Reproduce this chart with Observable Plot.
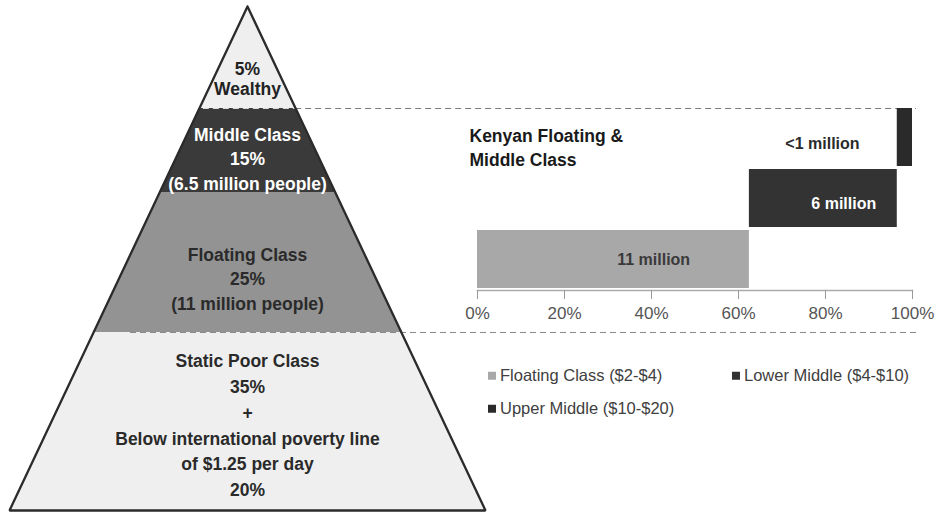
<!DOCTYPE html>
<html><head><meta charset="utf-8">
<script src="https://cdn.jsdelivr.net/npm/d3@7"></script>
<script src="https://cdn.jsdelivr.net/npm/@observablehq/plot@0.6"></script>
<style>
body{margin:0;background:#fff;}
#wrap{position:relative;width:942px;height:512px;overflow:hidden;font-family:"Liberation Sans",Arial,sans-serif;}
#wrap svg{position:absolute;left:0;top:0;}
.leg{position:absolute;font-size:16.5px;color:#404040;line-height:1;white-space:nowrap;transform:translateY(-50%);}
.leg i{display:inline-block;width:8px;height:8px;margin-right:4px;vertical-align:1px;}
</style></head><body><div id="wrap"></div>
<script>
// ---------- data ----------
const pyramidClasses = ["Wealthy", "Middle Class", "Floating Class", "Static Poor Class"];
const pyramidShares = [5, 15, 25, 55];
const pyramidLabels = [
  "5%\nWealthy",
  "Middle Class\n15%\n(6.5 million people)",
  "Floating Class\n25%\n(11 million people)",
  "Static Poor Class\n35%\n+\nBelow international poverty line\nof $1.25 per day\n20%"
];
const barClasses = ["Floating Class ($2-$4)", "Lower Middle ($4-$10)", "Upper Middle ($10-$20)"];
const barShares = [62.5, 34, 3.5];
const barLabels = ["11 million", "6 million", "<1 million"];
const xTicks = [0, 20, 40, 60, 80, 100];
const chartTitle = "Kenyan Floating &\nMiddle Class";

// ---------- layout & style ----------
const W = 942, H = 512;
const apex = {x: 247, y: 6}, base = {y: 510, x1: 9, x2: 485};
const bandEdges = [6, 108, 192, 332, 510];
const bandFill = ["#efefef", "#3a3a3a", "#939393", "#efefef"];
const labelFill = ["#222", "#fff", "#2a2a2a", "#2a2a2a"];
const labelY = [78, 157, 277, 423];
const labelLH = [1.15, 1.42, 1.42, 1.47];
const barColor = ["#a8a8a8", "#333333", "#2a2a2a"];
const barLabelX = [40.5, 84.2, 79.3];
const barLabelDy = [0, 5, 6];
const barLabelFill = ["#3a3a3a", "#ffffff", "#2a2a2a"];
const font = '"Liberation Sans", Arial, sans-serif';
const barTop = 108, barBottom = 290, barInset = 2, barPad = 0.05;

const leftX = y => apex.x + (base.x1 - apex.x) * (y - apex.y) / (base.y - apex.y);
const rightX = y => apex.x + (base.x2 - apex.x) * (y - apex.y) / (base.y - apex.y);

// ---------- pyramid ----------
const bandRows = pyramidClasses.flatMap((c, i) =>
  [bandEdges[i], bandEdges[i + 1]].map(y => ({cls: c, y, x1: leftX(y), x2: rightX(y), fill: bandFill[i]})));
const dashes = [
  {y: bandEdges[1], x1: leftX(bandEdges[1]) + 4, x2: rightX(bandEdges[1]), stroke: "#d8d8d8"},
  {y: bandEdges[1], x1: rightX(bandEdges[1]), x2: 916, stroke: "#7a7a7a"},
  {y: bandEdges[3], x1: 130, x2: 916, stroke: "#8a8a8a"}
];
const outline = [
  {x: apex.x, y: apex.y}, {x: base.x1, y: base.y}, {x: base.x2, y: base.y}, {x: apex.x, y: apex.y}
];

const pyr = Plot.plot({
  width: W, height: H, margin: 0,
  x: {domain: [0, W], range: [0, W], axis: null},
  y: {domain: [0, H], range: [0, H], axis: null},
  style: {fontFamily: font, background: "transparent"},
  marks: [
    Plot.areaX(bandRows, {y: "y", x1: "x1", x2: "x2", z: "cls", fill: "fill"}),
    Plot.ruleY(dashes, {y: "y", x1: "x1", x2: "x2", stroke: "stroke", strokeDasharray: "6,4", strokeWidth: 1.2}),
    Plot.line(outline, {x: "x", y: "y", stroke: "#2b2b2b", strokeWidth: 2.3, strokeLinejoin: "miter"}),
    ...pyramidLabels.map((t, i) => Plot.text([t], {
      x: apex.x, y: labelY[i], text: d => d, fill: labelFill[i],
      fontSize: 17.5, fontWeight: "bold", lineAnchor: "middle", lineHeight: labelLH[i]
    }))
  ]
});

// ---------- bars ----------
const cum = d3.cumsum(barShares);
const bars = barClasses.map((c, i) => ({cls: c, x1: cum[i] - barShares[i], x2: cum[i], label: barLabels[i], color: barColor[i]}));

const bar = Plot.plot({
  width: W, height: H,
  marginLeft: 477, marginRight: 30, marginTop: barTop, marginBottom: H - barBottom,
  x: {domain: [0, 100], axis: null},
  y: {domain: [...barClasses].reverse(), axis: null, paddingInner: barPad, paddingOuter: 0, insetBottom: barInset},
  style: {fontFamily: font, background: "transparent"},
  marks: [
    Plot.barX(bars, {x1: "x1", x2: "x2", y: "cls", fill: "color"}),
    Plot.frame({anchor: "bottom", stroke: "#aaa", strokeWidth: 1.5}),
    Plot.axisX({ticks: xTicks, tickSize: 9, text: null, stroke: "#999"}),
    Plot.axisX({ticks: xTicks, tickSize: 0, tickPadding: 16, tickFormat: d => d + "%", fill: "#555", fontSize: 17}),
    ...bars.map((b, i) => Plot.text([b], {x: () => barLabelX[i], y: "cls", text: "label",
      dy: barLabelDy[i], fill: barLabelFill[i], fontSize: 16, fontWeight: "bold"})),
    Plot.text([chartTitle], {frameAnchor: "top-left", dx: -8, dy: 17, text: d => d, textAnchor: "start",
      lineAnchor: "top", lineHeight: 1.36, fontSize: 17.5, fontWeight: "bold", fill: "#1a1a1a"})
  ]
});

const wrap = document.getElementById("wrap");
wrap.append(pyr, bar);

// ---------- legend ----------
const legendPos = [{left: 488, top: 375}, {left: 732, top: 375}, {left: 488, top: 408}];
barClasses.forEach((c, i) => {
  const el = document.createElement("div");
  el.className = "leg";
  el.style.left = legendPos[i].left + "px";
  el.style.top = legendPos[i].top + "px";
  const sw = document.createElement("i");
  sw.style.background = barColor[i];
  el.append(sw, document.createTextNode(c));
  wrap.append(el);
});
</script></body></html>
